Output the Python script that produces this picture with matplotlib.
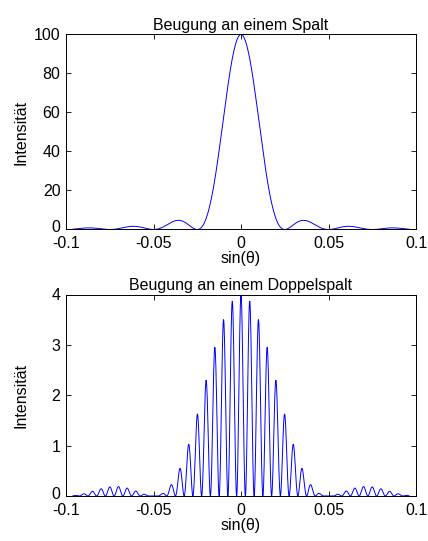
import numpy as np
import matplotlib
matplotlib.use("Agg")
import matplotlib.pyplot as plt
from matplotlib.transforms import ScaledTranslation

# --- values ---
x_limits = [-0.1, 0.1]
x_sample_range = [-0.096, 0.096]          # extent of plotted curves
x_ticks = [-0.1, -0.05, 0, 0.05, 0.1]
x_ticklabels = ["-0.1", "-0.05", "0", "0.05", "0.1"]

# single slit
single_peak = 100.0
single_first_min = 0.025                   # sin(theta) of first minimum
single_yticks = [0, 20, 40, 60, 80, 100]

# double slit
double_peak = 4.0
double_envelope_min = 0.05                 # first zero of envelope
double_fringe_spacing = 0.005              # distance between fringes
double_yticks = [0, 1, 2, 3, 4]

titles = ["Beugung an einem Spalt", "Beugung an einem Doppelspalt"]
xlabel = "sin(θ)"
ylabel = "Intensität"

plt.rcParams['font.family'] = ['Liberation Sans', 'DejaVu Sans']
plt.rcParams['axes.unicode_minus'] = False
FS = 11.5

s = np.linspace(x_sample_range[0], x_sample_range[1], 1200)
I1 = single_peak * np.sinc(s / single_first_min) ** 2
I2 = double_peak * np.cos(np.pi * s / double_fringe_spacing) ** 2 * np.sinc(s / double_envelope_min) ** 2

fig = plt.figure(figsize=(4.28, 5.41), dpi=100)
W, H = 428, 541

def add_ax(left, top, right, bottom):
    return fig.add_axes([left / W, 1 - bottom / H, (right - left) / W, (bottom - top) / H])

ax1 = add_ax(66, 34.5, 416, 229.5)
ax2 = add_ax(66, 294.5, 416, 496)

for ax, I, yt, title in [(ax1, I1, single_yticks, titles[0]), (ax2, I2, double_yticks, titles[1])]:
    ax.plot(s, I, color=(0, 0, 1), lw=0.7)
    ax.set_xlim(*x_limits)
    ax.set_ylim(yt[0], yt[-1])
    ax.set_xticks(x_ticks)
    ax.set_xticklabels(x_ticklabels)
    ax.set_yticks(yt)
    ax.set_yticklabels([str(v) for v in yt])
    ax.tick_params(direction='in', top=True, right=True, length=3.5, width=0.6,
                   labelsize=FS)
    ax.tick_params(axis='x', pad=5)
    ax.tick_params(axis='y', pad=4)
    for sp in ax.spines.values():
        sp.set_linewidth(0.7)
    ax.set_title(title, fontsize=FS, pad=3)
    ax.set_xlabel(xlabel, fontsize=FS, labelpad=0)
    ax.set_ylabel(ylabel, fontsize=FS)
    ax.yaxis.set_label_coords(-0.108, 0.5)
    # lift the bottom y tick label slightly so it clears the x tick label
    lbl = ax.get_yticklabels()[0]
    lbl.set_transform(lbl.get_transform() + ScaledTranslation(0, 3 / 100, fig.dpi_scale_trans))

fig.savefig("out.png", dpi=100, facecolor="white")
